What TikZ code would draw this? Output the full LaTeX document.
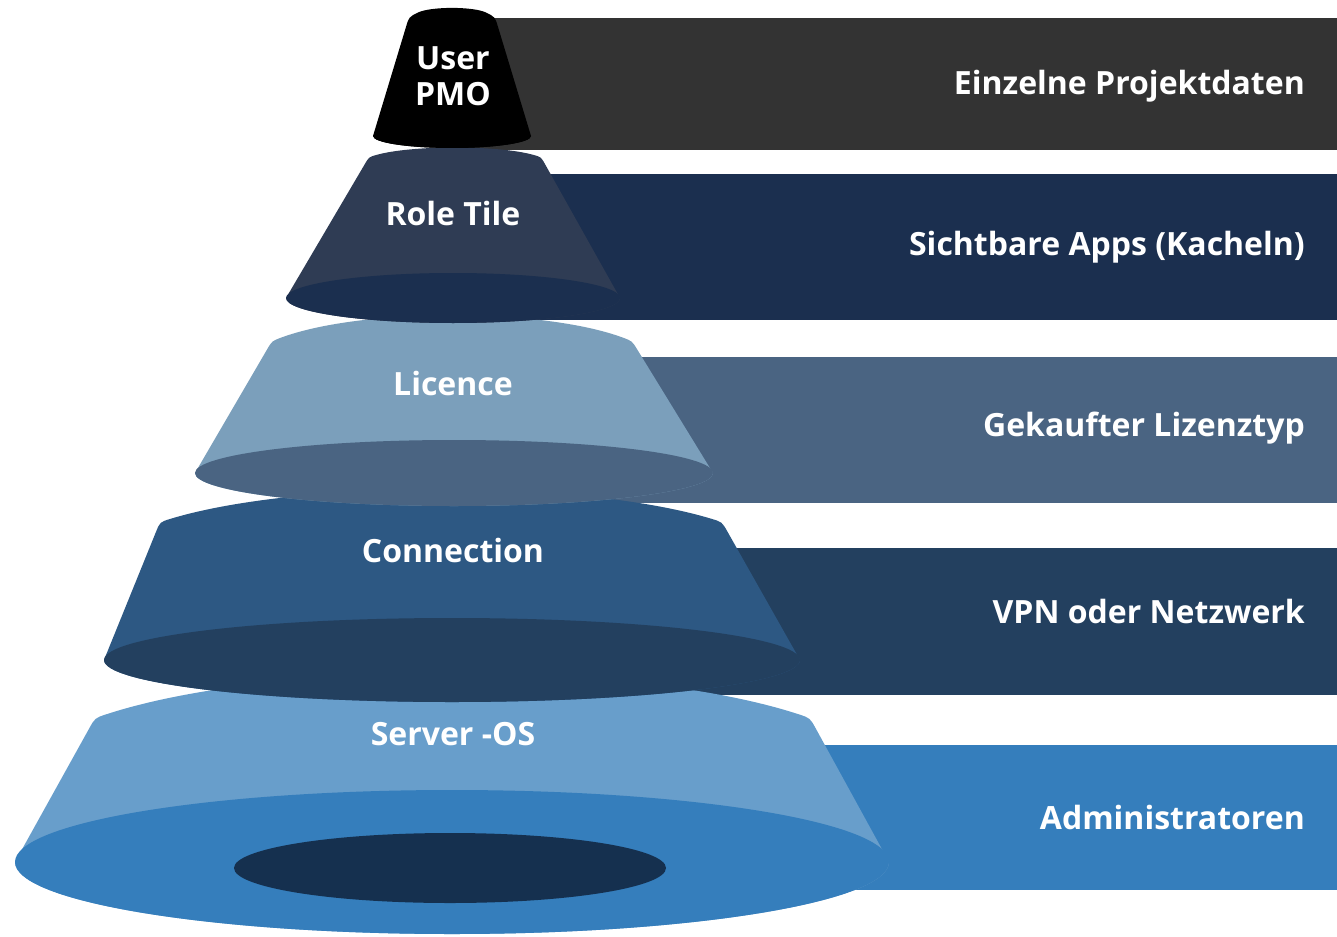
\documentclass[tikz,border=0pt]{standalone}
\usepackage{fontspec}
\setmainfont{Open Sans}
\usetikzlibrary{calc}
\definecolor{bandA}{HTML}{333333}
\definecolor{bandB}{HTML}{1B2F4F}
\definecolor{bandC}{HTML}{4A6482}
\definecolor{bandD}{HTML}{23405F}
\definecolor{bandE}{HTML}{357EBC}
\definecolor{faceB}{HTML}{2F3C54}
\definecolor{faceC}{HTML}{7B9FBB}
\definecolor{faceD}{HTML}{2D5883}
\definecolor{faceE}{HTML}{689ECB}
\definecolor{holeE}{HTML}{15304F}
\tikzset{
  lbl/.style={text=white, font=\bfseries\fontsize{32}{38}\selectfont, inner sep=0pt, anchor=base},
  rlbl/.style={text=white, font=\bfseries\fontsize{32}{38}\selectfont, inner sep=0pt, anchor=base east},
}
% frustum: #1 face colour, #2 ellipse colour, #3 top-left x, #4 top-right x, #5 top y, #6 top rise,
% #7 centre x, #8 bottom centre y, #9 bottom x radius; y radius via \fry, corner radius via \frr
\newcommand{\frustum}[9]{%
  \coordinate (fL) at (#3,#5);
  \coordinate (fR) at (#4,#5);
  \coordinate (fC1) at ({#3+0.5*(#4-#3)/2},{#5-1.33*#6});
  \coordinate (fC2) at ({#4-0.5*(#4-#3)/2},{#5-1.33*#6});
  \coordinate (fBL) at ({#7-#9},#8);
  \coordinate (fBR) at ({#7+#9},#8);
  \fill[#1] ($(fL)!\frr!(fBL)$) .. controls (fL) .. ($(fL)!\frr!(fC1)$)
     .. controls (fC1) and (fC2) .. ($(fR)!\frr!(fC2)$)
     .. controls (fR) .. ($(fR)!\frr!(fBR)$)
     -- (fBR) arc[start angle=0, end angle=180, x radius=#9, y radius=\fry] -- cycle;
  \fill[#2] (#7,#8) ellipse[x radius=#9, y radius=\fry];
}
\begin{document}
\begin{tikzpicture}[x=1pt,y=-1pt]
\useasboundingbox (0,0) rectangle (1337,936);
% bands
\fill[bandA] (453,18) rectangle (1337,150);
\fill[bandB] (453,174) rectangle (1337,320);
\fill[bandC] (453,357) rectangle (1337,503);
\fill[bandD] (453,548) rectangle (1337,695);
\fill[bandE] (453,745) rectangle (1337,890);
% Server-OS
\def\fry{72}\def\frr{12pt}
\frustum{faceE}{bandE}{95}{810}{718}{44}{452}{862}{437}
\fill[holeE] (450,868) ellipse[x radius=216, y radius=35];
% Connection
\def\fry{42}\def\frr{11pt}
\frustum{faceD}{bandD}{160}{722}{522}{32}{452}{660}{348}
% Licence
\def\fry{33}\def\frr{10pt}
\frustum{faceC}{bandC}{272}{632}{341}{25}{454}{473}{259}
% Role Tile
\def\fry{25}\def\frr{8pt}
\frustum{faceB}{bandB}{369}{541}{157}{9}{453}{298}{167}
% User PMO
\def\fry{12}\def\frr{10pt}
\frustum{black}{black}{409}{495}{17}{8}{452}{136}{79}
% labels on cones
\node[lbl] (u1) at (453,70) {User};
\node[lbl] (u2) at (453,106) {PMO};
\node[lbl] (rt) at (453,225) {Role Tile};
\node[lbl] (li) at (453,395) {Licence};
\node[lbl] (co) at (453,562) {Connection};
\node[lbl] (so) at (453,745) {Server -OS};
% labels on bands
\node[rlbl] (b1) at (1305,95) {Einzelne Projektdaten};
\node[rlbl] (b2) at (1305,255) {Sichtbare Apps (Kacheln)};
\node[rlbl] (b3) at (1305,436) {Gekaufter Lizenztyp};
\node[rlbl] (b4) at (1305,623) {VPN oder Netzwerk};
\node[rlbl] (b5) at (1305,829) {Administratoren};
\end{tikzpicture}
\end{document}
